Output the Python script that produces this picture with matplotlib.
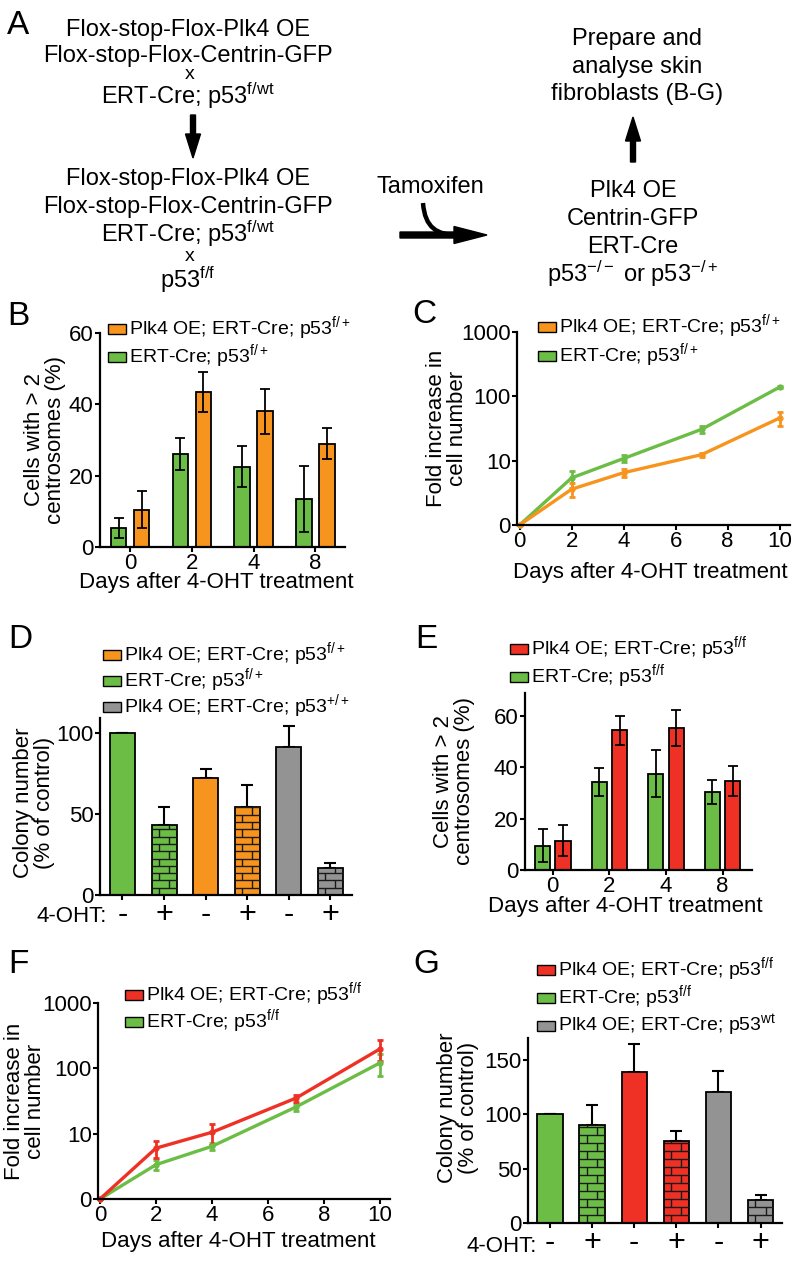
import numpy as np
import matplotlib
matplotlib.use("Agg")
from matplotlib import pyplot as plt
from matplotlib.patches import Rectangle, FancyArrow, PathPatch
from matplotlib.path import Path

plt.rcParams['font.family'] = ['Liberation Sans', 'DejaVu Sans']
plt.rcParams['mathtext.fontset'] = 'custom'
plt.rcParams['mathtext.rm'] = 'Liberation Sans'
plt.rcParams['mathtext.it'] = 'Liberation Sans:italic'
plt.rcParams['mathtext.bf'] = 'Liberation Sans:bold'

GREEN = '#6cbd45'
ORANGE = '#f7941d'
RED = '#ee3124'
GRAY = '#939393'

# ---- data ----
# B: centrosome amplification, p53 f/+
b_days = ['0', '2', '4', '8']
b_ctrl = [5.3, 26, 22.5, 13.5]
b_ctrl_err = [2.8, 4.5, 5.8, 9.2]
b_plk = [10.5, 43.5, 38, 29]
b_plk_err = [5.3, 5.7, 6.2, 4.3]

# C: growth curve, p53 f/+
c_days = [0, 2, 4, 7, 10]
c_plk = [1, 3.6, 6.5, 12.4, 46]
c_plk_err = [0, 0.9, 0.9, 0.8, 11]
c_ctrl = [1, 5.4, 10.8, 30.7, 139]
c_ctrl_err = [0, 1.6, 1.3, 3.5, 5]

# D: colony number, p53 f/+
d_treat = ['-', '+', '-', '+', '-', '+']
d_vals = [100, 43.3, 72.2, 54, 91.3, 16.5]
d_err = [0, 10.7, 5.5, 13.5, 12.7, 3.5]
d_colors = [GREEN, GREEN, ORANGE, ORANGE, GRAY, GRAY]

# E: centrosome amplification, p53 f/f
e_days = ['0', '2', '4', '8']
e_ctrl = [9.4, 34.3, 37.6, 30.3]
e_ctrl_err = [6.4, 5.5, 9, 4.6]
e_plk = [11.5, 54.4, 55.4, 34.6]
e_plk_err = [6.2, 5.6, 7, 5.9]

# F: growth curve, p53 f/f
f_days = [0, 2, 4, 7, 10]
f_plk = [1, 6.0, 10.5, 35, 198]
f_plk_err = [0, 1.7, 3.7, 4, 70]
f_ctrl = [1, 3.35, 6.4, 25.6, 121]
f_ctrl_err = [0, 0.6, 0.8, 3, 45]

# G: colony number, p53 f/f
g_treat = ['-', '+', '-', '+', '-', '+']
g_vals = [100, 90.4, 138.8, 75, 120.4, 21.4]
g_err = [0, 18.3, 26, 10, 19, 4]
g_colors = [GREEN, GREEN, RED, RED, GRAY, GRAY]

lab_fp = ['Plk4 OE; ERT-Cre; p53$^{\\mathrm{f/+}}$', 'ERT-Cre; p53$^{\\mathrm{f/+}}$']
lab_d3 = 'Plk4 OE; ERT-Cre; p53$^{\\mathrm{+/+}}$'
lab_ff = ['Plk4 OE; ERT-Cre; p53$^{\\mathrm{f/f}}$', 'ERT-Cre; p53$^{\\mathrm{f/f}}$']
lab_g3 = 'Plk4 OE; ERT-Cre; p53$^{\\mathrm{wt}}$'

W, H = 796, 1264
fig = plt.figure(figsize=(W / 100, H / 100), dpi=100)

ov = fig.add_axes([0, 0, 1, 1], zorder=5)
ov.set_xlim(0, W)
ov.set_ylim(H, 0)
ov.axis('off')
ov.patch.set_visible(False)


def box(x0, y0, x1, y1):
    return [x0 / W, 1 - y1 / H, (x1 - x0) / W, (y1 - y0) / H]


def style(ax):
    for s in ['top', 'right']:
        ax.spines[s].set_visible(False)
    for s in ['left', 'bottom']:
        ax.spines[s].set_linewidth(1.6)
    ax.tick_params(direction='out', length=3.5, width=1.5, labelsize=16, pad=1)


def ylab(ax, text, x, y):
    ax.set_ylabel(text, fontsize=16, linespacing=1.05)
    ax.yaxis.set_label_coords(x, y, transform=ov.transData)
    ax.yaxis.label.set_va('center')


def xlab(ax, text, x, y):
    ax.set_xlabel(text, fontsize=16)
    ax.xaxis.set_label_coords(x, y, transform=ov.transData)
    ax.xaxis.label.set_va('baseline')


def legend_rows(x, y, labels, colors, step):
    for i, (lab, c) in enumerate(zip(labels, colors)):
        yy = y + i * step
        ov.add_patch(Rectangle((x, yy - 5), 18, 10, fc=c, ec='k', lw=1))
        ov.text(x + 21, yy + 5, lab, fontsize=14, ha='left', va='baseline')


def bricks(ax, bars, row_px):
    pxu = ax.transData.transform((0, 1))[1] - ax.transData.transform((0, 0))[1]
    dy = row_px / pxu
    for b in bars:
        x0, w, h = b.get_x(), b.get_width(), b.get_height()
        ys = np.arange(dy, h, dy)
        ax.hlines(ys, x0, x0 + w, colors='#1a1a1a', lw=1.0, zorder=2.5)
        for k in range(int(np.ceil(h / dy))):
            xj = x0 + w * (0.3 if k % 2 == 0 else 0.7)
            ax.vlines(xj, k * dy, min((k + 1) * dy, h), colors='#1a1a1a', lw=1.0, zorder=2.5)


def grouped(ax, cats, ctrl, ctrl_err, plk, plk_err, c2, off, bw):
    x = np.arange(len(cats))
    ax.bar(x - off, ctrl, bw, color=GREEN, edgecolor='k', lw=1.3)
    ax.bar(x + off, plk, bw, color=c2, edgecolor='k', lw=1.3)
    ax.errorbar(x - off, ctrl, yerr=ctrl_err, fmt='none', ecolor='k',
                elinewidth=1.3, capsize=3.6, capthick=1.3, zorder=3)
    ax.errorbar(x + off, plk, yerr=plk_err, fmt='none', ecolor='k',
                elinewidth=1.3, capsize=3.6, capthick=1.3, zorder=3)
    ax.set_xticks(x)
    ax.set_xticklabels(cats)


def colony(ax, vals, err, colors, treat):
    x = np.arange(len(vals))
    bars = ax.bar(x, vals, 0.6, color=colors, edgecolor='k', lw=1.3, zorder=2)
    ax.errorbar(x, vals, yerr=[np.zeros(len(err)), err], fmt='none', ecolor='k',
                elinewidth=1.5, capsize=4.6, capthick=1.5, zorder=1)
    ax.set_xticks(x)
    ax.set_xticklabels(treat, fontsize=22)
    ax.tick_params(axis='x', pad=0)
    return [b for b, t in zip(bars, treat) if t == '+']


def growth(ax, days, plk, plk_err, ctrl, ctrl_err, c1):
    for vals, err, c in [(ctrl, ctrl_err, GREEN), (plk, plk_err, c1)]:
        ax.errorbar(days, vals, yerr=err, color=c, lw=2.4, marker='o', ms=3.5,
                    elinewidth=2, capsize=2.5, capthick=2, clip_on=False)
    ax.set_yscale('log')
    ax.set_ylim(1, 1000)
    ax.set_yticks([1, 10, 100, 1000])
    ax.set_yticklabels(['0', '10', '100', '1000'])
    ax.minorticks_off()
    ax.set_xticks([0, 2, 4, 6, 8, 10])


# ---- panel A ----
T = 17
ov.text(188, 36, 'Flox-stop-Flox-Plk4 OE', fontsize=T, ha='center', va='baseline')
ov.text(188, 62, 'Flox-stop-Flox-Centrin-GFP', fontsize=T, ha='center', va='baseline')
ov.text(190, 79, '$\\mathrm{x}$', fontsize=14, ha='center', va='baseline')
ov.text(188, 104, 'ERT-Cre; p53$^{\\mathrm{f/wt}}$', fontsize=T, ha='center', va='baseline')
ov.add_patch(FancyArrow(193, 115, 0, 43, width=5, head_width=15, head_length=24,
                        length_includes_head=True, color='k'))
ov.text(188, 185, 'Flox-stop-Flox-Plk4 OE', fontsize=T, ha='center', va='baseline')
ov.text(188, 213, 'Flox-stop-Flox-Centrin-GFP', fontsize=T, ha='center', va='baseline')
ov.text(188, 242, 'ERT-Cre; p53$^{\\mathrm{f/wt}}$', fontsize=T, ha='center', va='baseline')
ov.text(190, 261, '$\\mathrm{x}$', fontsize=14, ha='center', va='baseline')
ov.text(188, 288, 'p53$^{\\mathrm{f/f}}$', fontsize=T, ha='center', va='baseline')

ov.text(430, 193, 'Tamoxifen', fontsize=T, ha='center', va='baseline')
ov.add_patch(FancyArrow(400, 235, 87, 0, width=6, head_width=17, head_length=33,
                        length_includes_head=True, color='k'))
curve = Path([(423, 203), (425, 228), (437, 235), (458, 235)],
             [Path.MOVETO, Path.CURVE4, Path.CURVE4, Path.CURVE4])
ov.add_patch(PathPatch(curve, fill=False, lw=3.2, color='k'))

ov.text(637, 45, 'Prepare and', fontsize=T, ha='center', va='baseline')
ov.text(637, 73, 'analyse skin', fontsize=T, ha='center', va='baseline')
ov.text(637, 100, 'fibroblasts (B-G)', fontsize=T, ha='center', va='baseline')
ov.add_patch(FancyArrow(633, 162, 0, -45, width=5, head_width=15, head_length=24,
                        length_includes_head=True, color='k'))
ov.text(633, 197, 'Plk4 OE', fontsize=T, ha='center', va='baseline')
ov.text(633, 225, 'Centrin-GFP', fontsize=T, ha='center', va='baseline')
ov.text(633, 253, 'ERT-Cre', fontsize=T, ha='center', va='baseline')
ov.text(633, 282, 'p53$^{\\mathrm{-/-}}$ or p53$^{\\mathrm{-/+}}$', fontsize=T, ha='center', va='baseline')

# panel letters
for letter, x, y in [('A', 7, 34), ('B', 7, 325), ('C', 412, 323), ('D', 8, 648),
                     ('E', 415, 648), ('F', 8, 973), ('G', 413, 973)]:
    ov.text(x, y, letter, fontsize=24, ha='left', va='baseline')

# ---- panel B ----
axB = fig.add_axes(box(100, 333, 345, 547))
style(axB)
grouped(axB, b_days, b_ctrl, b_ctrl_err, b_plk, b_plk_err, ORANGE, 0.186, 0.25)
axB.set_xlim(-0.49, 3.48)
axB.set_ylim(0, 60)
axB.set_yticks([0, 20, 40, 60])
ylab(axB, 'Cells with > 2\ncentrosomes (%)', 45, 440)
xlab(axB, 'Days after 4-OHT treatment', 216, 588)
legend_rows(108, 329, lab_fp, [ORANGE, GREEN], 28)

# ---- panel C ----
axC = fig.add_axes(box(517, 332, 790, 525))
style(axC)
growth(axC, c_days, c_plk, c_plk_err, c_ctrl, c_ctrl_err, ORANGE)
axC.set_xlim(-0.1, 10.4)
ylab(axC, 'Fold increase in\ncell number', 447, 428)
xlab(axC, 'Days after 4-OHT treatment', 650, 578)
legend_rows(538, 327, lab_fp, [ORANGE, GREEN], 29)

# ---- panel D ----
axD = fig.add_axes(box(100, 718, 352, 895))
style(axD)
hatched = colony(axD, d_vals, d_err, d_colors, d_treat)
axD.set_xlim(-0.54, 5.52)
axD.set_ylim(0, 109)
axD.set_yticks([0, 50, 100])
bricks(axD, hatched, 7.3)
ylab(axD, 'Colony number\n(% of control)', 34, 803)
ov.text(107, 922, '4-OHT:', fontsize=16, ha='right', va='baseline')
legend_rows(103, 655, lab_fp + [lab_d3], [ORANGE, GREEN, GRAY], 26)

# ---- panel E ----
axE = fig.add_axes(box(525, 693, 752, 870))
style(axE)
grouped(axE, e_days, e_ctrl, e_ctrl_err, e_plk, e_plk_err, RED, 0.18, 0.27)
axE.set_xlim(-0.49, 3.52)
axE.set_ylim(0, 69)
axE.set_yticks([0, 20, 40, 60])
ylab(axE, 'Cells with > 2\ncentrosomes (%)', 454, 781)
xlab(axE, 'Days after 4-OHT treatment', 625, 912)
legend_rows(510, 649, lab_ff, [RED, GREEN], 28)

# ---- panel F ----
axF = fig.add_axes(box(98, 1003, 390, 1199))
style(axF)
growth(axF, f_days, f_plk, f_plk_err, f_ctrl, f_ctrl_err, RED)
axF.set_xlim(-0.07, 10.36)
ylab(axF, 'Fold increase in\ncell number', 25, 1101)
xlab(axF, 'Days after 4-OHT treatment', 238, 1247)
legend_rows(125, 995, lab_ff, [RED, GREEN], 27)

# ---- panel G ----
axG = fig.add_axes(box(528, 1038, 782, 1223))
style(axG)
hatched = colony(axG, g_vals, g_err, g_colors, g_treat)
axG.set_xlim(-0.52, 5.51)
axG.set_ylim(0, 170)
axG.set_yticks([0, 50, 100, 150])
bricks(axG, hatched, 8)
ylab(axG, 'Colony number\n(% of control)', 458, 1108)
ov.text(537, 1252, '4-OHT:', fontsize=16, ha='right', va='baseline')
legend_rows(537, 970, lab_ff + [lab_g3], [RED, GREEN, GRAY], 28)

fig.savefig('out.png', dpi=100)
